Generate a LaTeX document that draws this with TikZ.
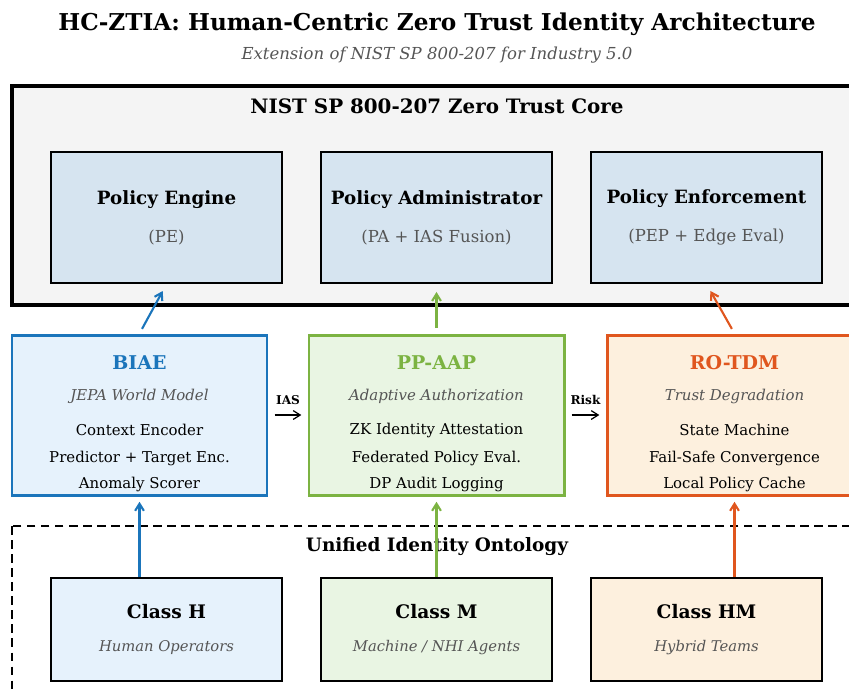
\documentclass[tikz,border=0pt]{standalone}
\usepackage{fontspec}
\setmainfont{DejaVu Serif}
\usetikzlibrary{arrows.meta, positioning}
\definecolor{biaeblue}{HTML}{1B75BB}
\definecolor{aapgreen}{HTML}{7CB342}
\definecolor{tdmorange}{HTML}{E0561E}
\definecolor{subgray}{HTML}{555555}
\definecolor{corefill}{HTML}{F4F4F4}
\definecolor{pefill}{HTML}{D6E4F0}
\definecolor{bluefill}{HTML}{E6F2FC}
\definecolor{greenfill}{HTML}{E9F5E3}
\definecolor{orangefill}{HTML}{FDF0DE}

\newcommand{\subline}[1]{{\mdseries\fontsize{9.4}{19}\selectfont\color{subgray}#1}}
\newcommand{\subital}[1]{{\mdseries\itshape\fontsize{8.4}{19}\selectfont\color{subgray}#1}}

\begin{document}
\begin{tikzpicture}[
  frame/.style={draw=black, line width=1.8pt, fill=corefill},
  onto frame/.style={draw=black, line width=1.3pt, dash pattern=on 5pt off 3pt},
  frame title/.style={font=\fontsize{11.3}{13}\selectfont\bfseries},
  core box/.style={rectangle, draw=black, line width=1.2pt, fill=pefill, minimum width=4.62cm, minimum height=2.62cm, align=center, font=\fontsize{10.4}{21.5}\selectfont\bfseries},
  module/.style={rectangle, line width=1.7pt, minimum width=5.1cm, minimum height=3.2cm},
  mod title/.style={font=\fontsize{10.8}{13}\selectfont\bfseries},
  mod sub/.style={font=\fontsize{8.5}{10}\selectfont\itshape, color=subgray},
  mod item/.style={font=\fontsize{8.5}{10}\selectfont},
  class box/.style={rectangle, draw=black, line width=1.2pt, minimum width=4.62cm, minimum height=2.06cm, align=center, font=\fontsize{10.6}{19}\selectfont\bfseries},
  flow/.style={-{Straight Barb[length=4pt,width=5pt]}, line width=1.2pt},
  pass/.style={-{Straight Barb[length=4pt,width=5pt]}, line width=0.7pt, shorten <=3.5pt, shorten >=3.5pt},
]
\useasboundingbox (0,0) rectangle (16.98,-13.82);

  % Heading
  \node[font=\fontsize{13.2}{15}\selectfont\bfseries] (title) at (8.74,-0.48) {HC-ZTIA: Human-Centric Zero Trust Identity Architecture};
  \node[font=\fontsize{9.4}{11}\selectfont\itshape, color=subgray] (subtitle) at (8.74,-1.10) {Extension of NIST SP 800-207 for Industry 5.0};

  % Zero trust core
  \draw[frame] (0.24,-1.72) rectangle (17.5,-6.10);
  \node[frame title] (coretitle) at (8.74,-2.12) {NIST SP 800-207 Zero Trust Core};

  \node[core box] (pe) at (3.33,-4.35) {Policy Engine\\\subline{(PE)}};
  \node[core box] (pa) at (8.73,-4.35) {Policy Administrator\\\subline{(PA + IAS Fusion)}};
  \node[core box] (pep) at (14.13,-4.35) {Policy Enforcement\\\subline{(PEP + Edge Eval)}};

  % Modules
  \node[module, draw=biaeblue, fill=bluefill] (biae) at (2.79,-8.30) {};
  \node[module, draw=aapgreen, fill=greenfill] (ppaap) at (8.73,-8.30) {};
  \node[module, draw=tdmorange, fill=orangefill] (rotdm) at (14.69,-8.30) {};

  % BIAE
  \node[mod title, color=biaeblue] (biaetitle) at (2.79,-7.26) {BIAE};
  \node[mod sub] (biaesub) at (2.79,-7.92) {JEPA World Model};
  \node[mod item] (biaea) at (2.79,-8.60) {Context Encoder};
  \node[mod item] (biaeb) at (2.79,-9.16) {Predictor + Target Enc.};
  \node[mod item] (biaec) at (2.79,-9.68) {Anomaly Scorer};

  % PP-AAP
  \node[mod title, color=aapgreen] (ppaaptitle) at (8.73,-7.26) {PP-AAP};
  \node[mod sub] (ppaapsub) at (8.73,-7.92) {Adaptive Authorization};
  \node[mod item] (ppaapa) at (8.73,-8.60) {ZK Identity Attestation};
  \node[mod item] (ppaapb) at (8.73,-9.16) {Federated Policy Eval.};
  \node[mod item] (ppaapc) at (8.73,-9.68) {DP Audit Logging};

  % RO-TDM
  \node[mod title, color=tdmorange] (rotdmtitle) at (14.69,-7.26) {RO-TDM};
  \node[mod sub] (rotdmsub) at (14.69,-7.92) {Trust Degradation};
  \node[mod item] (rotdma) at (14.69,-8.60) {State Machine};
  \node[mod item] (rotdmb) at (14.69,-9.16) {Fail-Safe Convergence};
  \node[mod item] (rotdmc) at (14.69,-9.68) {Local Policy Cache};

  % Ontology
  \draw[onto frame] (0.24,-10.52) rectangle (17.5,-14.3);
  \node[font=\fontsize{10.5}{12}\selectfont\bfseries] (ontotitle) at (8.74,-10.94) {Unified Identity Ontology};

  \node[class box, fill=bluefill] (classh) at (3.33,-12.59) {Class H\\\subital{Human Operators}};
  \node[class box, fill=greenfill] (classm) at (8.73,-12.59) {Class M\\\subital{Machine / NHI Agents}};
  \node[class box, fill=orangefill] (classhm) at (14.13,-12.59) {Class HM\\\subital{Hybrid Teams}};

  % Arrows up into the core
  \draw[flow, biaeblue, shorten <=3pt, shorten >=4.5pt] (biae.north) -- (pe.south);
  \draw[flow, aapgreen, shorten <=3pt, shorten >=4.5pt] (ppaap.north) -- (pa.south);
  \draw[flow, tdmorange, shorten <=3pt, shorten >=4.5pt] (rotdm.north) -- (pep.south);

  % Arrows up from the ontology
  \draw[flow, biaeblue, shorten >=3pt] (classh.north -| biae) -- (biae.south);
  \draw[flow, aapgreen, shorten >=3pt] (classm.north) -- (ppaap.south);
  \draw[flow, tdmorange, shorten >=3pt] (classhm.north -| rotdm) -- (rotdm.south);

  % Signals between modules
  \draw[pass] (biae) -- node[above=2pt, font=\fontsize{6.9}{8}\selectfont\bfseries] (ias) {IAS} (ppaap);
  \draw[pass] (ppaap) -- node[above=2pt, font=\fontsize{6.9}{8}\selectfont\bfseries] (risk) {Risk} (rotdm);

\end{tikzpicture}
\end{document}
